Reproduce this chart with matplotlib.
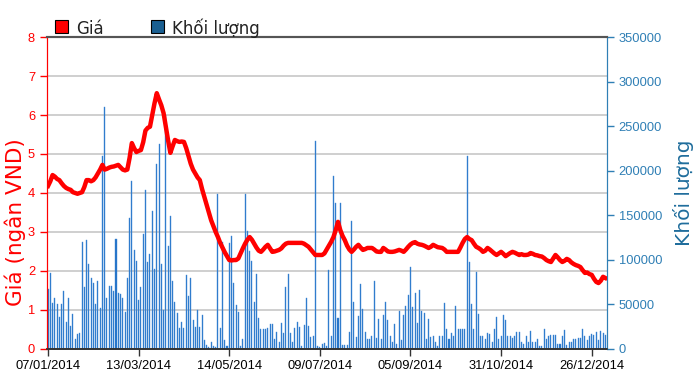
import matplotlib
matplotlib.use("Agg")
import matplotlib.pyplot as plt
from matplotlib.patches import Rectangle
import numpy as np

# nhãn ngày trên trục hoành (mỗi 40 phiên)
tick_labels = ["07/01/2014", "13/03/2014", "14/05/2014", "09/07/2014",
               "05/09/2014", "31/10/2014", "26/12/2014"]
tick_step = 40

# giá đóng cửa (ngàn VND), mỗi phiên một giá trị
gia = [
    4.18, 4.30, 4.46, 4.42, 4.36, 4.33, 4.25, 4.18, 4.13, 4.10,
    4.08, 4.02, 4.00, 3.98, 4.00, 4.02, 4.15, 4.33, 4.33, 4.30,
    4.33, 4.40, 4.50, 4.60, 4.72, 4.60, 4.62, 4.65, 4.67, 4.68,
    4.70, 4.72, 4.66, 4.60, 4.58, 4.60, 4.90, 5.28, 5.15, 5.05,
    5.08, 5.10, 5.30, 5.60, 5.67, 5.70, 6.00, 6.30, 6.56, 6.40,
    6.25, 6.05, 5.70, 5.35, 5.03, 5.20, 5.36, 5.33, 5.31, 5.32,
    5.31, 5.15, 4.95, 4.75, 4.60, 4.50, 4.40, 4.33, 4.10, 3.90,
    3.70, 3.50, 3.30, 3.15, 3.00, 2.87, 2.72, 2.60, 2.48, 2.38,
    2.28, 2.27, 2.28, 2.28, 2.32, 2.45, 2.58, 2.70, 2.80, 2.87,
    2.80, 2.70, 2.60, 2.52, 2.49, 2.55, 2.62, 2.67, 2.58, 2.49,
    2.50, 2.52, 2.54, 2.58, 2.65, 2.70, 2.72, 2.72, 2.72, 2.72,
    2.72, 2.72, 2.72, 2.70, 2.66, 2.62, 2.55, 2.48, 2.41, 2.41,
    2.41, 2.41, 2.45, 2.55, 2.65, 2.75, 2.87, 3.05, 3.26, 3.05,
    2.90, 2.79, 2.65, 2.55, 2.49, 2.55, 2.62, 2.67, 2.60, 2.54,
    2.56, 2.59, 2.59, 2.59, 2.55, 2.50, 2.49, 2.49, 2.59, 2.55,
    2.50, 2.49, 2.49, 2.50, 2.52, 2.54, 2.52, 2.49, 2.55, 2.62,
    2.68, 2.72, 2.74, 2.70, 2.68, 2.67, 2.65, 2.62, 2.59, 2.62,
    2.67, 2.64, 2.61, 2.60, 2.59, 2.55, 2.49, 2.49, 2.49, 2.49,
    2.49, 2.49, 2.60, 2.72, 2.82, 2.87, 2.82, 2.79, 2.70, 2.62,
    2.59, 2.55, 2.49, 2.52, 2.59, 2.55, 2.50, 2.45, 2.41, 2.45,
    2.49, 2.44, 2.38, 2.42, 2.46, 2.49, 2.47, 2.44, 2.41, 2.43,
    2.41, 2.41, 2.42, 2.46, 2.44, 2.41, 2.40, 2.38, 2.37, 2.33,
    2.28, 2.25, 2.23, 2.32, 2.41, 2.35, 2.28, 2.23, 2.26, 2.31,
    2.28, 2.22, 2.18, 2.15, 2.13, 2.10, 2.02, 1.95, 1.96, 1.92,
    1.90, 1.80, 1.72, 1.69, 1.75, 1.85, 1.82,
]

# khối lượng giao dịch (cổ phiếu)
khoi_luong = [
    67000, 85000, 52000, 57000, 50000, 36000, 50000, 65000, 30000, 57000,
    26000, 39000, 11000, 17000, 18000, 120000, 70000, 122000, 95000, 80000,
    74000, 50000, 76000, 46000, 216000, 272000, 57000, 71000, 71000, 65000,
    123000, 63000, 62000, 57000, 42000, 80000, 147000, 188000, 111000, 99000,
    55000, 70000, 129000, 178000, 98000, 106000, 155000, 90000, 207000, 230000,
    95000, 44000, 262000, 115000, 149000, 76000, 53000, 40000, 23000, 30000,
    24000, 83000, 59000, 80000, 33000, 25000, 44000, 25000, 38000, 10000,
    4500, 2000, 8000, 3000, 2000, 174000, 23000, 120000, 10000, 3000,
    119000, 127000, 74000, 49000, 42000, 3000, 11000, 174000, 132000, 110000,
    99000, 53000, 84000, 35000, 22000, 22000, 22000, 24000, 28000, 28000,
    11000, 19000, 8000, 29000, 18000, 70000, 84000, 18000, 8000, 23000,
    30000, 25000, 3000, 27000, 57000, 26000, 13000, 14000, 233000, 3000,
    2000, 6000, 7000, 3000, 89000, 14000, 194000, 164000, 35000, 164000,
    4000, 4000, 4000, 19000, 144000, 53000, 13000, 37000, 73000, 45000,
    19000, 11000, 11000, 14000, 76000, 12000, 34000, 11000, 38000, 53000,
    33000, 15000, 8000, 28000, 5000, 43000, 10000, 38000, 48000, 61000,
    92000, 47000, 63000, 29000, 66000, 43000, 40000, 11000, 34000, 13000,
    15000, 8000, 3000, 15000, 15000, 52000, 22000, 11000, 18000, 15000,
    48000, 22000, 22000, 22000, 22000, 216000, 98000, 50000, 22000, 86000,
    39000, 14000, 14000, 11000, 18000, 17000, 8000, 22000, 36000, 11000,
    15000, 38000, 33000, 15000, 15000, 12000, 14000, 19000, 19000, 8000,
    6000, 14000, 8000, 20000, 8000, 8000, 11000, 3000, 3000, 22000,
    11000, 15000, 16000, 16000, 16000, 5000, 5000, 15000, 21000, 4000,
    8000, 8000, 11000, 11000, 12000, 12000, 22000, 15000, 10000, 15000,
    17000, 16000, 19000, 10000, 20000, 18000, 16000,
]

x = np.arange(len(gia))

RED = "#ff0000"
BLUE_AX = "#2f7fb5"
BLUE_BAR = "#1f6fc6"
TICK_FONT = "Liberation Sans"
W, H = 700.0, 374.0

fig = plt.figure(figsize=(7.0, 3.74), dpi=100)
ax_v = fig.add_axes([0.067, 0.067, 0.80, 0.834])  # khối lượng (trục phải)
ax_p = ax_v.twinx()                                # giá (trục trái)

# cột khối lượng
ax_v.bar(x, khoi_luong, width=0.45, color=BLUE_BAR, edgecolor="#4a8fd8",
         linewidth=0.3, zorder=2)
for k in range(1, 8):
    ax_v.axhline(k * 350000 / 8, color="#cccccc", linewidth=1.3, zorder=1)
ax_v.set_ylim(0, 350000)
ax_v.set_xlim(-0.5, len(gia) - 0.3)
ax_v.yaxis.tick_right()
ax_v.yaxis.set_label_position("right")
ax_v.set_yticks(np.arange(0, 350001, 50000))
ax_v.tick_params(axis="y", colors=BLUE_AX, labelsize=9.3, length=5, width=1,
                 labelcolor=BLUE_AX)
ax_v.set_ylabel("Khối lượng", color="#1f6d9c", fontsize=14.5, labelpad=8)

# đường giá
ax_p.plot(x, gia, color=RED, linewidth=3.2, solid_joinstyle="round", zorder=3)
ax_p.set_ylim(0, 8)
ax_p.yaxis.tick_left()
ax_p.set_yticks(range(0, 9))
ax_p.tick_params(axis="y", colors=RED, labelsize=9.3, length=5, width=1,
                 labelcolor=RED)
# nhãn trục trái
fig.text(15 / W, 1 - 222 / H, "Giá (ngân VND)", color=RED, fontsize=15.5,
         rotation=90, ha="center", va="center")

ax_v.set_xticks(x[::tick_step])
ax_v.set_xticklabels(tick_labels)
ax_v.tick_params(axis="x", colors="#333333", labelsize=9.3, length=5, width=1,
                 labelcolor="black", pad=3)

for lab in ax_v.get_xticklabels() + ax_v.get_yticklabels() + ax_p.get_yticklabels():
    lab.set_family(TICK_FONT)

for a in (ax_v, ax_p):
    a.spines["top"].set_color("#555555")
    a.spines["top"].set_linewidth(1.5)
    a.spines["bottom"].set_color("#333333")
    a.spines["bottom"].set_linewidth(1.2)
    a.spines["left"].set_color(RED)
    a.spines["right"].set_color(BLUE_AX)

# chú thích
fig.patches.append(Rectangle((55 / W, 1 - 33 / H), 13 / W, 13 / H,
                             transform=fig.transFigure, facecolor=RED,
                             edgecolor="black", linewidth=0.8))
fig.text(76 / W, 1 - 34 / H, "Giá", fontsize=12, color="#222222")
fig.patches.append(Rectangle((151 / W, 1 - 33 / H), 13 / W, 13 / H,
                             transform=fig.transFigure, facecolor="#1a5f91",
                             edgecolor="black", linewidth=0.8))
fig.text(172 / W, 1 - 34 / H, "Khối lượng", fontsize=12, color="#222222")

fig.savefig("out.png", dpi=100)
